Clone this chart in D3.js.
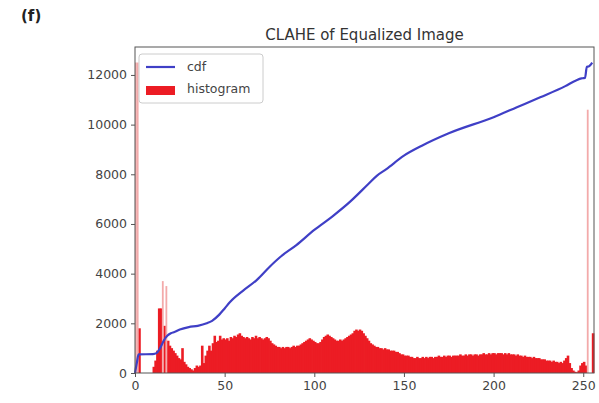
<!DOCTYPE html>
<html><head><meta charset="utf-8">
<script src="https://cdn.jsdelivr.net/npm/d3@7"></script>
<style>body{margin:0;background:#fff}svg{display:block}</style>
</head><body>
<svg id="c" width="599" height="403"></svg>
<script>
// histogram counts for intensity bins 0..255
const hist = [
  12500, 12500, 1800, 0, 0, 0, 0, 0, 0, 0,
  250, 500, 900, 2600, 2600, 3700, 1900, 3500, 1300, 1100,
  1000, 900, 800, 700, 600, 550, 1000, 450, 350, 250,
  200, 150, 100, 200, 300, 250, 300, 1100, 400, 700,
  900, 1100, 900, 1200, 1500, 1250, 1300, 1500, 1350, 1400,
  1350, 1400, 1300, 1450, 1400, 1500, 1450, 1550, 1600, 1500,
  1450, 1400, 1450, 1400, 1350, 1450, 1400, 1500, 1400, 1450,
  1400, 1350, 1400, 1450, 1400, 1300, 1200, 1150, 1100, 1050,
  1050, 1000, 1050, 1000, 1050, 1050, 1000, 1050, 1100, 1050,
  1100, 1100, 1150, 1200, 1250, 1300, 1350, 1400, 1350, 1300,
  1250, 1200, 1200, 1250, 1350, 1450, 1500, 1550, 1500, 1450,
  1400, 1350, 1300, 1300, 1350, 1300, 1350, 1400, 1450, 1500,
  1550, 1600, 1700, 1750, 1700, 1750, 1700, 1600, 1500, 1400,
  1300, 1200, 1150, 1100, 1050, 1050, 1000, 1000, 950, 1000,
  950, 950, 900, 900, 900, 850, 850, 800, 750, 750,
  700, 700, 700, 650, 650, 600, 600, 650, 600, 600,
  650, 600, 650, 600, 650, 650, 600, 650, 650, 700,
  650, 650, 700, 650, 700, 700, 650, 700, 700, 700,
  700, 750, 700, 700, 750, 700, 750, 750, 700, 750,
  750, 700, 750, 750, 800, 750, 750, 800, 750, 800,
  800, 750, 800, 800, 800, 750, 800, 750, 800, 750,
  750, 750, 700, 750, 700, 700, 650, 700, 650, 650,
  650, 600, 650, 600, 600, 600, 550, 550, 550, 500,
  500, 500, 450, 500, 450, 450, 400, 450, 400, 500,
  600, 700, 400, 200, 100, 50, 30, 100, 300, 400,
  450, 300, 10600, 0, 0, 1600
];
// normalized cdf read at selected intensities
const cdfX = [0,1,2,10,12,14,16,18,20,22,25,30,35,40,43,47,50,53,60,68,75,81,90,100,110,120,130,135,140,150,160,175,200,213,226,240,246,249,250,251,252,253,254,255];
const cdfY = [0,400,750,760,800,1000,1300,1500,1600,1650,1750,1850,1900,2000,2100,2350,2600,2860,3300,3750,4270,4670,5150,5760,6300,6900,7600,7950,8200,8750,9150,9650,10300,10700,11100,11550,11780,11860,11870,11880,12330,12340,12400,12500];
const xTicks = [0, 50, 100, 150, 200, 250];
const yTicks = [0, 2000, 4000, 6000, 8000, 10000, 12000];
const titleText = "CLAHE of Equalized Image";
const panelLabel = "(f)";
const legendLabels = ["cdf", "histogram"];

const svg = d3.select("#c");
const L = 135, R = 594, T = 47, B = 373;
const x = d3.scaleLinear().domain([0, 256]).range([L, R]);
const y = d3.scaleLinear().domain([0, 13125]).range([B, T]);
const font = "DejaVu Sans, sans-serif";
const red = "#ec1c24", pink = "#f3aaaa", blue = "#3f3fc6";

const bars = hist.map((v, i) => ({v, i})).filter(d => d.v > 0);
// regular bars (overlapping slightly to avoid seams)
svg.append("g").selectAll("rect").data(bars.filter(d => d.v < 3000))
  .join("rect")
  .attr("x", d => x(d.i) - 0.4)
  .attr("width", d => x(d.i + 1) - x(d.i) + 0.8)
  .attr("y", d => y(d.v))
  .attr("height", d => y(0) - y(d.v))
  .attr("fill", red);
// isolated tall spikes
svg.append("g").selectAll("rect").data(bars.filter(d => d.v >= 3000))
  .join("rect")
  .attr("x", d => x(d.i))
  .attr("width", d => x(d.i + 1) - x(d.i))
  .attr("y", d => y(d.v))
  .attr("height", d => y(0) - y(d.v))
  .attr("fill", pink);

// cdf line
svg.append("path")
  .datum(cdfX.map((v, i) => [v, cdfY[i]]))
  .attr("d", d3.line().curve(d3.curveMonotoneX).x(d => x(d[0])).y(d => y(d[1])))
  .attr("fill", "none").attr("stroke", blue).attr("stroke-width", 2.2);

// axes
const ax = svg.append("g").attr("transform", `translate(0,${B})`)
  .call(d3.axisBottom(x).tickValues(xTicks).tickSize(4).tickPadding(4).tickFormat(d3.format("d")));
const ay = svg.append("g").attr("transform", `translate(${L},0)`)
  .call(d3.axisLeft(y).tickValues(yTicks).tickSize(4).tickPadding(4).tickFormat(d3.format("d")));
[ax, ay].forEach(g => {
  g.select(".domain").remove();
  g.selectAll("line").attr("stroke", "#555");
  g.selectAll("text").attr("font-family", font).attr("font-size", 12.5).attr("fill", "#444");
});
svg.append("rect").attr("x", L).attr("y", T).attr("width", R - L).attr("height", B - T)
  .attr("fill", "none").attr("stroke", "#555").attr("stroke-width", 1);

// title & panel label
svg.append("text").attr("x", (L + R) / 2).attr("y", 40).attr("text-anchor", "middle")
  .attr("font-family", font).attr("font-size", 15).attr("fill", "#333").text(titleText);
svg.append("text").attr("x", 21).attr("y", 21)
  .attr("font-family", font).attr("font-size", 15).attr("font-weight", "bold").attr("fill", "#222").text(panelLabel);

// legend
const lg = svg.append("g");
lg.append("rect").attr("x", 139).attr("y", 54).attr("width", 124).attr("height", 49).attr("rx", 3)
  .attr("fill", "#fff").attr("fill-opacity", 0.85).attr("stroke", "#ccc");
lg.append("line").attr("x1", 146).attr("x2", 175).attr("y1", 67).attr("y2", 67)
  .attr("stroke", blue).attr("stroke-width", 2.2);
lg.append("rect").attr("x", 146).attr("y", 86).attr("width", 29).attr("height", 9).attr("fill", red);
lg.selectAll("text.l").data(legendLabels).join("text")
  .attr("x", 187).attr("y", (d, i) => 71 + i * 22)
  .attr("font-family", font).attr("font-size", 12.5).attr("fill", "#444").text(d => d);
</script>
</body></html>
